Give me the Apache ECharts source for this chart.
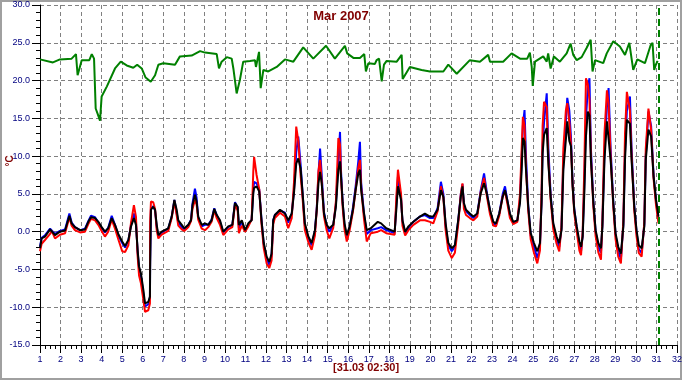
<!DOCTYPE html>
<html><head><meta charset="utf-8">
<script src="https://cdn.jsdelivr.net/npm/echarts@6/dist/echarts.min.js"></script>
<style>html,body{margin:0;padding:0;background:#fff;}#c{width:682px;height:380px;}</style>
</head><body><div id="c"></div>
<script>
// Indoor (green) series: time in days of month, temperature °C
var greenT = [1.00,1.63,1.97,2.54,2.75,2.83,3.03,3.40,3.52,3.63,3.71,3.82,3.92,4.00,4.25,4.65,4.93,5.22,5.54,5.73,5.95,6.14,6.39,6.60,6.76,7.00,7.57,7.81,8.38,8.79,9.03,9.60,9.68,9.71,9.84,10.09,10.33,10.41,10.57,10.73,10.89,11.22,11.46,11.51,11.66,11.74,11.87,12.11,12.52,12.92,13.33,13.81,14.30,14.92,15.35,15.84,15.95,16.25,16.57,16.78,16.86,16.98,17.30,17.38,17.50,17.63,17.74,17.87,18.36,18.60,18.65,19.00,19.57,19.98,20.63,20.87,21.28,21.92,22.41,22.81,22.90,23.54,23.95,24.36,24.71,24.84,24.93,24.98,25.09,25.49,25.66,25.73,25.85,26.01,26.30,26.63,26.82,26.95,27.12,27.36,27.60,27.80,27.89,28.01,28.41,28.58,28.90,29.22,29.47,29.68,29.79,29.87,30.07,30.44,30.72,30.81,30.89,30.97,31.06];
var greenV = [22.8,22.4,22.8,22.9,23.5,20.7,22.7,22.7,23.5,22.9,16.3,15.5,14.7,17.9,19.2,21.6,22.5,22.0,21.7,22.1,21.6,20.4,19.85,20.7,22.1,22.3,22.1,23.2,23.3,23.9,23.7,23.5,23.6,21.6,22.5,23.1,22.9,21.6,18.3,20.1,22.5,22.6,22.7,21.8,23.8,19.0,21.4,21.2,21.8,22.8,22.5,24.4,22.9,24.6,22.9,24.6,23.6,23.0,23.0,23.5,21.2,22.3,22.2,22.7,22.9,19.9,22.1,22.6,22.5,23.4,20.2,21.8,21.4,21.2,21.2,22.1,20.9,22.7,22.5,23.4,22.5,22.5,23.6,22.9,22.9,23.7,21.8,19.3,22.5,23.2,22.5,23.6,21.6,23.2,22.5,23.6,24.9,23.4,22.7,23.1,24.3,25.4,21.2,22.7,22.3,23.6,25.2,24.5,23.4,25.0,22.9,21.4,22.8,22.3,24.7,25.0,21.4,22.1,22.6];

// Outdoor series (black, blue, red) share a time array
var outT = [1.00,1.08,1.24,1.49,1.57,1.73,1.97,2.22,2.30,2.43,2.54,2.70,2.95,3.19,3.35,3.48,3.68,3.84,4.00,4.16,4.32,4.49,4.65,4.81,5.00,5.14,5.30,5.43,5.57,5.67,5.75,5.82,5.91,6.03,6.11,6.27,6.35,6.36,6.40,6.51,6.60,6.68,6.76,6.92,7.24,7.41,7.54,7.65,7.73,7.90,8.02,8.22,8.35,8.42,8.54,8.62,8.70,8.87,9.03,9.19,9.35,9.48,9.60,9.76,9.92,10.16,10.36,10.49,10.62,10.68,10.82,10.98,11.14,11.30,11.38,11.42,11.54,11.67,11.78,11.89,12.03,12.16,12.27,12.35,12.43,12.68,12.92,13.08,13.25,13.36,13.47,13.57,13.68,13.78,13.89,14.06,14.22,14.38,14.47,14.55,14.63,14.71,14.82,14.95,15.08,15.27,15.40,15.52,15.60,15.65,15.73,15.82,15.93,16.07,16.23,16.36,16.49,16.57,16.63,16.77,16.90,17.10,17.44,17.60,17.85,18.26,18.34,18.42,18.57,18.64,18.77,18.93,19.17,19.49,19.73,19.98,20.14,20.35,20.51,20.63,20.74,20.87,21.04,21.19,21.35,21.48,21.56,21.63,21.73,21.92,22.09,22.28,22.45,22.61,22.74,22.90,23.06,23.19,23.35,23.52,23.63,23.74,23.87,24.03,24.23,24.36,24.44,24.50,24.58,24.65,24.76,24.88,25.04,25.20,25.33,25.41,25.46,25.53,25.66,25.74,25.85,25.98,26.14,26.27,26.38,26.47,26.59,26.66,26.76,26.84,26.92,27.00,27.12,27.25,27.33,27.41,27.49,27.57,27.66,27.74,27.81,27.93,28.04,28.17,28.30,28.37,28.47,28.59,28.67,28.77,28.90,29.01,29.14,29.27,29.39,29.47,29.56,29.71,29.79,29.92,30.03,30.14,30.28,30.41,30.48,30.61,30.74,30.86,30.98,31.10];
var blackV = [-2.2,-0.9,-0.65,0.3,0.45,-0.45,0.0,0.15,0.2,2.1,1.1,0.6,0.2,0.3,1.3,1.9,1.8,1.3,0.6,0.0,0.45,1.8,0.9,-0.3,-1.3,-1.9,-1.1,0.7,1.8,0.9,-2.4,-4.6,-5.5,-7.7,-9.5,-9.3,-8.6,-4.6,2.9,3.3,2.9,0.9,-0.45,0.0,0.45,2.0,4.2,2.9,1.5,0.9,0.45,0.9,1.5,3.5,4.9,4.0,2.0,0.9,1.1,0.9,1.5,3.0,2.2,1.5,0.0,0.7,0.9,3.8,3.3,0.9,1.5,0.2,1.1,1.5,5.1,5.8,6.0,5.3,1.5,-1.5,-3.3,-4.0,-2.9,1.5,2.2,2.9,2.4,1.5,2.4,5.1,9.0,9.7,8.4,5.1,1.1,-0.65,-1.5,0.2,2.9,6.4,7.9,6.4,2.4,0.9,0.45,0.9,3.3,8.2,9.3,7.3,3.8,1.1,-0.45,0.7,2.9,5.5,7.7,8.2,5.5,2.4,0.2,0.45,1.3,1.1,0.45,0.0,2.9,6.0,4.2,1.5,0.0,0.7,1.3,2.0,2.4,2.0,2.0,2.9,5.5,4.6,1.1,-1.5,-2.2,-1.8,1.5,4.6,6.0,3.8,2.9,2.4,2.0,2.4,5.1,6.4,5.1,2.9,1.3,1.1,2.4,4.6,5.5,4.2,2.4,1.3,1.5,3.8,8.2,12.4,11.9,8.2,3.3,-0.2,-1.5,-2.6,-1.5,3.8,10.4,12.8,13.7,9.0,4.6,1.1,-0.65,-1.5,0.2,8.2,12.1,14.6,12.0,11.3,6.0,2.9,0.7,-1.3,-2.0,-0.65,5.1,12.6,15.9,15.4,9.5,3.8,0.2,-1.5,-2.2,0.7,9.5,14.6,14.6,9.5,3.8,-0.2,-2.0,-2.9,0.7,9.5,14.8,14.3,9.5,3.3,0.2,-1.8,-2.2,0.7,9.5,13.5,12.6,7.3,4.2,2.0];
var blueV = [-2.0,-0.8,-0.5,0.4,0.6,-0.3,0.1,0.3,0.4,2.4,1.2,0.6,0.2,0.4,1.4,2.1,1.9,1.2,0.5,-0.1,0.5,2.1,0.9,-0.5,-1.5,-2.1,-1.2,0.9,2.4,1.2,-2.6,-4.8,-5.8,-8.2,-9.9,-9.6,-8.7,-4.0,3.0,3.4,2.8,0.6,-0.6,-0.1,0.4,2.0,4.2,2.5,1.2,0.6,0.3,0.9,1.6,3.7,5.7,4.5,1.9,0.7,0.9,0.9,1.6,3.1,2.2,1.3,-0.1,0.6,0.9,3.9,3.2,0.5,1.3,0.1,1.0,1.6,5.5,6.6,6.4,5.6,1.6,-1.7,-3.6,-4.4,-3.2,1.5,2.2,2.8,2.5,1.2,2.3,5.5,10.5,12.6,9.0,5.0,0.8,-0.9,-1.8,0.1,3.2,7.5,11.0,7.5,2.6,0.7,0.0,0.8,3.6,9.5,13.2,8.0,3.8,0.8,-0.7,0.6,3.2,6.0,9.3,11.9,6.5,2.3,-0.3,0.2,0.45,0.6,0.2,-0.2,3.5,7.3,4.5,1.3,-0.2,0.5,1.3,2.0,2.2,1.8,1.8,3.1,6.6,5.0,0.7,-1.8,-2.6,-2.0,1.4,5.0,6.3,3.6,2.7,2.2,1.8,2.4,5.5,7.7,5.3,2.7,1.1,0.9,2.4,5.0,6.0,4.2,2.2,1.2,1.5,4.2,9.5,14.0,16.1,10.0,3.5,-0.5,-2.0,-3.5,-2.0,4.2,11.5,14.5,18.3,11.0,5.0,0.8,-1.0,-2.0,0.5,9.5,14.5,17.7,16.0,12.5,6.5,3.0,0.5,-1.8,-2.6,-0.5,6.5,15.0,19.0,20.3,11.0,4.0,0.0,-2.0,-2.8,1.0,10.5,16.5,19.0,11.0,4.0,-0.4,-2.6,-3.6,1.0,10.5,16.0,17.9,11.0,3.5,0.0,-2.3,-2.8,1.0,10.0,15.9,14.0,7.5,4.0,1.5];
var redV = [-2.6,-1.6,-1.1,-0.3,0.1,-0.9,-0.4,-0.2,-0.1,1.9,0.8,0.2,-0.1,0.0,1.0,1.7,1.5,0.9,0.1,-0.65,0.0,1.6,0.4,-1.0,-2.6,-2.7,-1.8,1.2,3.5,2.0,-3.2,-5.8,-6.8,-9.0,-10.6,-10.4,-9.5,1.3,4.0,3.9,3.0,0.2,-0.9,-0.4,0.1,1.8,4.0,2.2,0.8,0.3,0.1,0.6,1.4,3.0,4.2,3.6,1.6,0.4,0.2,0.6,1.3,2.8,1.8,0.9,-0.45,0.3,0.6,3.6,2.8,-0.2,0.8,0.0,0.7,1.6,8.0,9.9,7.5,5.6,1.0,-2.2,-4.2,-4.8,-3.8,1.0,1.8,2.5,2.0,0.45,1.8,6.5,13.9,12.0,7.5,4.4,0.2,-1.4,-2.4,-0.5,3.0,8.0,9.5,6.5,2.0,0.2,-0.9,0.5,4.0,12.4,11.5,7.0,3.2,0.3,-1.3,0.2,2.7,5.5,8.5,9.5,5.8,1.6,-1.3,-0.2,0.0,0.2,-0.2,-0.4,4.5,8.2,5.0,0.8,-0.5,0.2,0.9,1.5,1.5,1.3,1.1,2.7,6.0,4.5,0.2,-2.5,-3.5,-2.8,0.9,5.0,6.4,3.0,2.2,1.8,1.5,2.0,5.3,7.1,4.8,2.3,0.8,0.7,2.1,4.7,5.3,3.8,1.8,1.0,1.3,5.0,11.0,15.2,14.0,8.5,2.8,-1.0,-2.8,-4.2,-2.5,5.5,14.0,17.2,16.5,9.5,4.3,0.3,-1.6,-2.6,0.8,11.0,16.0,17.0,14.5,11.5,6.0,2.5,0.0,-2.5,-3.1,0.0,8.5,20.3,19.5,17.5,10.0,3.3,-0.6,-2.7,-3.7,1.5,13.0,18.7,17.0,10.0,3.3,-1.0,-3.3,-4.2,1.5,13.0,18.5,16.0,10.0,2.8,-0.6,-2.8,-3.3,1.3,11.0,16.3,13.5,7.0,3.5,1.1];

var yTicks = [-15, 30, 5];      // min, max, step
var xDays = [1, 32, 1];         // min, max, step
var titleText = 'Mar 2007';
var unitText = '°C';
var stampText = '[31.03 02:30]';
var nowDay = 31 + 2.5/24;

function pairs(t, v){ return t.map(function(x,i){ return [x, v[i]]; }); }

var chart = echarts.init(document.getElementById('c'), null, {renderer:'canvas'});
var navy = '#000080', maroon = '#800000';
var ff = 'Liberation Sans, Arial, sans-serif';
var lbl = {color: navy, fontSize: 9, fontFamily: ff};
chart.setOption({
  animation: false,
  backgroundColor: '#ffffff',
  title: {text: titleText, left: 'center', top: 5,
    textStyle: {color: maroon, fontSize: 13, fontWeight: 'bold', fontFamily: ff}},
  grid: {left: 40, right: 5, top: 5, bottom: 35, containLabel: false, outerBoundsMode: 'none'},
  xAxis: {type: 'value', min: xDays[0], max: xDays[1], interval: xDays[2],
    axisLine: {show: true, onZero: false, lineStyle: {color: '#000', width: 1}},
    axisTick: {show: true, length: 8, lineStyle: {color: '#000'}},
    minorTick: {show: true, splitNumber: 4, length: 4, lineStyle: {color: '#000'}},
    axisLabel: Object.assign({margin: 10, showMinLabel: true, showMaxLabel: true}, lbl),
    splitLine: {show: true, lineStyle: {color: '#808080', type: [4, 3], width: 1}}},
  yAxis: {type: 'value', min: yTicks[0], max: yTicks[1], interval: yTicks[2],
    axisLine: {show: true, lineStyle: {color: '#000', width: 1}},
    axisTick: {show: true, length: 8, lineStyle: {color: '#000'}},
    minorTick: {show: true, splitNumber: 5, length: 4, lineStyle: {color: '#000'}},
    axisLabel: Object.assign({margin: 10, showMinLabel: true, showMaxLabel: true, formatter: function(v){ return v.toFixed(1); }}, lbl),
    splitLine: {show: true, lineStyle: {color: '#808080', type: [4, 3], width: 1}}},
  graphic: [
    {type: 'rect', shape: {x: 1, y: 1, width: 680, height: 378}, style: {fill: 'none', stroke: '#a0a0a0', lineWidth: 2}, silent: true},
    {type: 'text', x: 10, y: 161, rotation: Math.PI / 2,
      style: {text: unitText, fill: maroon, font: 'bold 10px Liberation Sans, Arial, sans-serif', align: 'center', verticalAlign: 'middle'}},
    {type: 'text', left: 333, top: 362, style: {text: stampText, fill: maroon, font: 'bold 11px Liberation Sans, Arial, sans-serif'}}
  ],
  series: [
    {type: 'line', name: 'indoor', data: pairs(greenT, greenV), showSymbol: false, symbol: 'none',
      lineStyle: {color: '#008000', width: 2}, z: 2,
      markLine: {silent: true, symbol: 'none', label: {show: false},
        lineStyle: {color: '#008000', type: [7, 4], width: 2},
        data: [{xAxis: nowDay}]}},
    {type: 'line', name: 'blue', data: pairs(outT, blueV), symbol: 'none', lineStyle: {color: '#0000ff', width: 2}, z: 3},
    {type: 'line', name: 'red', data: pairs(outT, redV), symbol: 'none', lineStyle: {color: '#ff0000', width: 2}, z: 4},
    {type: 'line', name: 'black', data: pairs(outT, blackV), symbol: 'none', lineStyle: {color: '#000000', width: 2}, z: 5}
  ]
});
</script></body></html>
